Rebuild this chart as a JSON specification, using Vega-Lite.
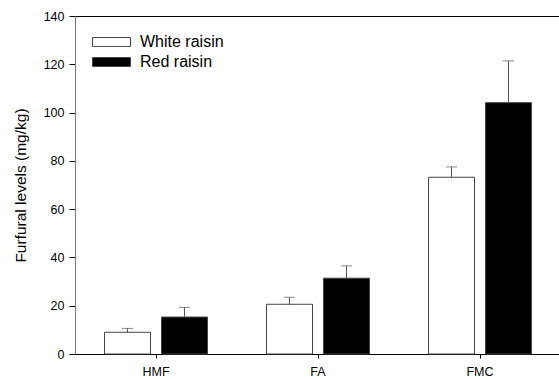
{
  "$schema": "https://vega.github.io/schema/vega-lite/v6.json",
  "width": 486,
  "height": 338,
  "autosize": "none",
  "padding": {"left": 75, "top": 16, "right": 0, "bottom": 25},
  "background": "white",
  "config": {
    "view": {"stroke": "black", "strokeWidth": 1},
    "font": "Liberation Sans"
  },
  "data": {
    "values": [
      {"compound": "HMF", "raisin": "White raisin", "level": 9.0, "upper": 10.6},
      {"compound": "HMF", "raisin": "Red raisin", "level": 15.3, "upper": 19.3},
      {"compound": "FA", "raisin": "White raisin", "level": 20.6, "upper": 23.5},
      {"compound": "FA", "raisin": "Red raisin", "level": 31.4, "upper": 36.5},
      {"compound": "FMC", "raisin": "White raisin", "level": 73.2, "upper": 77.5},
      {"compound": "FMC", "raisin": "Red raisin", "level": 104.1, "upper": 121.4}
    ]
  },
  "encoding": {
    "x": {
      "field": "compound",
      "type": "nominal",
      "sort": ["HMF", "FA", "FMC"],
      "scale": {"paddingInner": 0, "paddingOuter": 0},
      "axis": {
        "title": null,
        "labelAngle": 0,
        "tickSize": 4,
        "tickColor": "black",
        "domainColor": "black",
        "labelFontSize": 12.5,
        "labelColor": "black",
        "labelPadding": 7
      }
    },
    "xOffset": {
      "field": "raisin",
      "type": "nominal",
      "sort": ["White raisin", "Red raisin"],
      "scale": {"paddingInner": 0.193, "paddingOuter": 0.518}
    }
  },
  "layer": [
    {
      "mark": {"type": "bar", "stroke": "#444", "strokeWidth": 1},
      "encoding": {
        "y": {
          "field": "level",
          "type": "quantitative",
          "scale": {"domain": [0, 140], "nice": false},
          "axis": {
            "title": "Furfural levels (mg/kg)",
            "titleFontSize": 15.5,
            "titleFontWeight": "normal",
            "titleColor": "black",
            "titlePadding": 15,
            "values": [0, 20, 40, 60, 80, 100, 120, 140],
            "grid": false,
            "tickSize": 6,
            "tickColor": "black",
            "domainColor": "#777",
            "labelFontSize": 12.5,
            "labelColor": "black",
            "labelPadding": 5
          }
        },
        "fill": {
          "field": "raisin",
          "type": "nominal",
          "scale": {"domain": ["White raisin", "Red raisin"], "range": ["white", "black"]},
          "legend": {
            "orient": "none",
            "legendX": 17,
            "legendY": 16,
            "rowPadding": 2,
            "padding": 0,
            "title": null,
            "symbolType": "M-1,-0.47H3V0.47H-1Z",
            "symbolSize": 361,
            "symbolStrokeColor": "#444",
            "symbolStrokeWidth": 1,
            "symbolOpacity": 1,
            "labelFontSize": 16,
            "labelColor": "black",
            "labelOffset": 28
          }
        }
      }
    },
    {
      "mark": {"type": "rule", "color": "#555", "strokeWidth": 1},
      "encoding": {
        "y": {"field": "level", "type": "quantitative"},
        "y2": {"field": "upper"}
      }
    },
    {
      "mark": {"type": "tick", "color": "#555", "size": 11, "thickness": 1, "orient": "horizontal"},
      "encoding": {
        "y": {"field": "upper", "type": "quantitative"}
      }
    }
  ]
}
